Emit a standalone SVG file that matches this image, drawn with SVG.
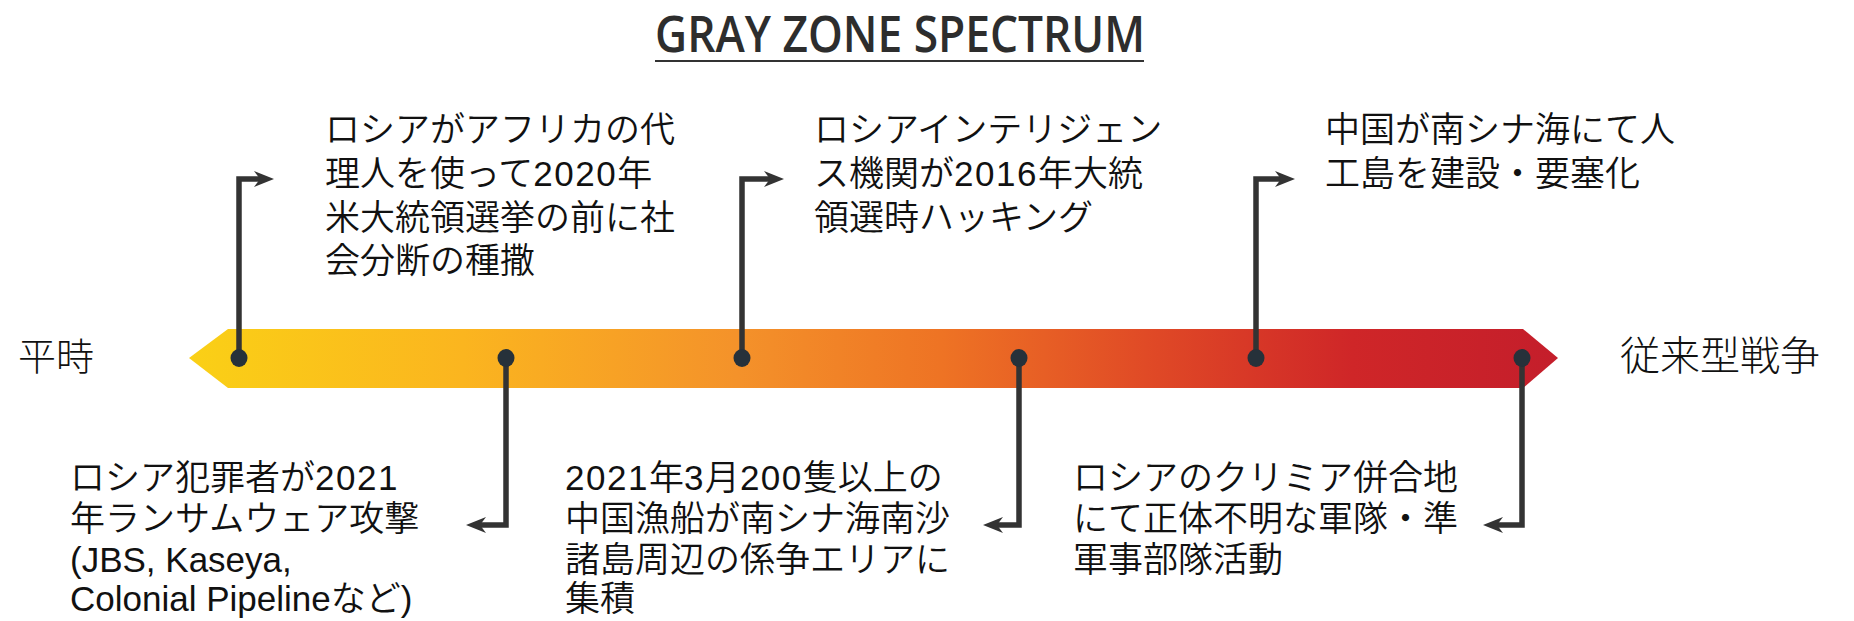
<svg xmlns="http://www.w3.org/2000/svg" width="1854" height="621" viewBox="0 0 1854 621">
<defs>
<linearGradient id="barGrad" gradientUnits="userSpaceOnUse" x1="189" y1="0" x2="1558" y2="0">
<stop offset="0" stop-color="#FAD016"/>
<stop offset="0.2" stop-color="#FBB51F"/>
<stop offset="0.4" stop-color="#F4922A"/>
<stop offset="0.55" stop-color="#EE7324"/>
<stop offset="0.7" stop-color="#E04A26"/>
<stop offset="0.85" stop-color="#CF2628"/>
<stop offset="1" stop-color="#C41E2B"/>
</linearGradient>
<marker id="arr" markerUnits="userSpaceOnUse" markerWidth="24" markerHeight="20" viewBox="-22 -10 24 20" refX="-10" refY="0" orient="auto">
<path d="M0,0 L-20,-8 L-14,0 L-20,8 Z" fill="#333"/>
</marker>
</defs>
<style>
.t{font-family:"Liberation Sans","Noto Sans CJK JP",sans-serif;font-size:35px;font-weight:350;fill:#111}
.d{letter-spacing:1.5px}
.side{font-family:"Liberation Sans","Noto Sans CJK JP",sans-serif;font-size:38px;font-weight:300;fill:#111}
.title{font-family:"Open Sans","Liberation Sans",sans-serif;font-weight:600;font-size:50px;fill:#2d2d2d}
.conn{fill:none;stroke:#333;stroke-width:5.5;stroke-linejoin:miter}
.dot{fill:#26313a}
</style>
<g id="title">
<text class="title" x="655" y="52" textLength="490" lengthAdjust="spacingAndGlyphs">GRAY ZONE SPECTRUM</text>
<line x1="655" y1="61" x2="1144" y2="61" stroke="#333" stroke-width="2"/>
</g>
<g id="spectrum-bar">
<polygon points="189,358 228,329 1523,329 1558,358 1523,388 228,388" fill="url(#barGrad)"/>
</g>
<g id="label-peace"><text class="side" x="18" y="370">平時</text></g>
<g id="label-war"><text class="side" x="1620" y="370" style="font-size:40px">従来型戦争</text></g>
<g id="connectors">
<path class="conn" d="M239,358 V179 H264" marker-end="url(#arr)"/>
<path class="conn" d="M506,358 V525 H476" marker-end="url(#arr)"/>
<path class="conn" d="M742,358 V179 H774" marker-end="url(#arr)"/>
<path class="conn" d="M1019,358 V525 H993" marker-end="url(#arr)"/>
<path class="conn" d="M1256,358 V179 H1285" marker-end="url(#arr)"/>
<path class="conn" d="M1522,358 V525 H1493" marker-end="url(#arr)"/>
<ellipse class="dot" cx="239" cy="358" rx="8.5" ry="9"/>
<ellipse class="dot" cx="506" cy="358" rx="8.5" ry="9"/>
<ellipse class="dot" cx="742" cy="358" rx="8.5" ry="9"/>
<ellipse class="dot" cx="1019" cy="358" rx="8.5" ry="9"/>
<ellipse class="dot" cx="1256" cy="358" rx="8.5" ry="9"/>
<ellipse class="dot" cx="1522" cy="358" rx="8.5" ry="9"/>
</g>
<g id="event-africa">
<text class="t" x="325" y="142">ロシアがアフリカの代</text>
<text class="t" x="325" y="186">理人を使って<tspan class="d">2020</tspan>年</text>
<text class="t" x="325" y="230">米大統領選挙の前に社</text>
<text class="t" x="325" y="273">会分断の種撒</text>
</g>
<g id="event-hacking">
<text class="t" x="814" y="142">ロシアインテリジェン</text>
<text class="t" x="814" y="186">ス機関が<tspan class="d">2016</tspan>年大統</text>
<text class="t" x="814" y="230">領選時ハッキング</text>
</g>
<g id="event-islands">
<text class="t" x="1325" y="142">中国が南シナ海にて人</text>
<text class="t" x="1325" y="186">工島を建設・要塞化</text>
</g>
<g id="event-ransomware">
<text class="t" x="70" y="490">ロシア犯罪者が<tspan class="d">2021</tspan></text>
<text class="t" x="70" y="531">年ランサムウェア攻撃</text>
<text class="t" x="70" y="572">(JBS, Kaseya,</text>
<text class="t" x="70" y="611">Colonial Pipelineなど)</text>
</g>
<g id="event-fishing">
<text class="t" x="565" y="490"><tspan class="d">2021</tspan>年<tspan class="d">3</tspan>月<tspan class="d">200</tspan>隻以上の</text>
<text class="t" x="565" y="531">中国漁船が南シナ海南沙</text>
<text class="t" x="565" y="572">諸島周辺の係争エリアに</text>
<text class="t" x="565" y="611">集積</text>
</g>
<g id="event-crimea">
<text class="t" x="1073" y="490">ロシアのクリミア併合地</text>
<text class="t" x="1073" y="531">にて正体不明な軍隊・準</text>
<text class="t" x="1073" y="572">軍事部隊活動</text>
</g>
</svg>
